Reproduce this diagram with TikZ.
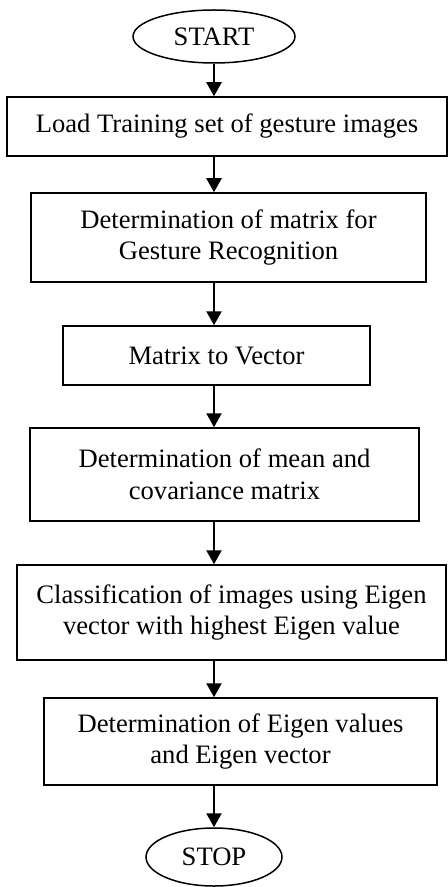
\documentclass[tikz,border=0pt]{standalone}
\usepackage{fontspec}
\setmainfont{Liberation Serif}
\usetikzlibrary{arrows.meta,shapes.geometric}
\tikzstyle{process}=[rectangle, draw, line width=0.75pt, inner sep=0pt, align=center,
  font=\fontsize{13.3}{15.8}\selectfont]
\tikzstyle{terminal}=[ellipse, draw, line width=0.75pt, inner sep=0pt,
  font=\fontsize{13.3}{15.8}\selectfont]
\newcommand{\process}{\node[process]}
\newcommand{\terminal}{\node[terminal]}

\begin{document}
\begin{tikzpicture}[x=0.5pt, y=-0.5pt
  ,every edge/.style={draw, line width=1.2pt, -{Triangle[length=7pt,width=7.5pt]}}
]
\useasboundingbox (0,0) rectangle (448,887);
\terminal (start) at (214,36.5) [minimum width=81pt, minimum height=26.5pt] {START};
\process (load) at (227,126.5) [minimum width=220pt, minimum height=29.5pt] {Load Training set of gesture images};
\process (mat) at (228.5,237.5) [minimum width=197.5pt, minimum height=44.5pt] {Determination of matrix for\\Gesture Recognition};
\process (vec) at (216.5,355.5) [minimum width=153.5pt, minimum height=29.5pt] {Matrix to Vector};
\process (mean) at (224.5,474.5) [minimum width=194.5pt, minimum height=46.5pt] {Determination of mean and\\covariance matrix};
\process (cls) at (231.5,612.5) [minimum width=214.5pt, minimum height=47.5pt] {Classification of images using Eigen\\vector with highest Eigen value};
\process (eig) at (240.5,741.5) [minimum width=196.5pt, minimum height=43.5pt] {Determination of Eigen values\\and Eigen vector};
\terminal (stop) at (214,857) [minimum width=68pt, minimum height=29pt] {STOP};
\path
(start) edge (start |- load.north)
(start |- load.south) edge (start |- mat.north)
(start |- mat.south) edge (start |- vec.north)
(start |- vec.south) edge (start |- mean.north)
(start |- mean.south) edge (start |- cls.north)
(start |- cls.south) edge (start |- eig.north)
(start |- eig.south) edge (stop)
;
\end{tikzpicture}
\end{document}
